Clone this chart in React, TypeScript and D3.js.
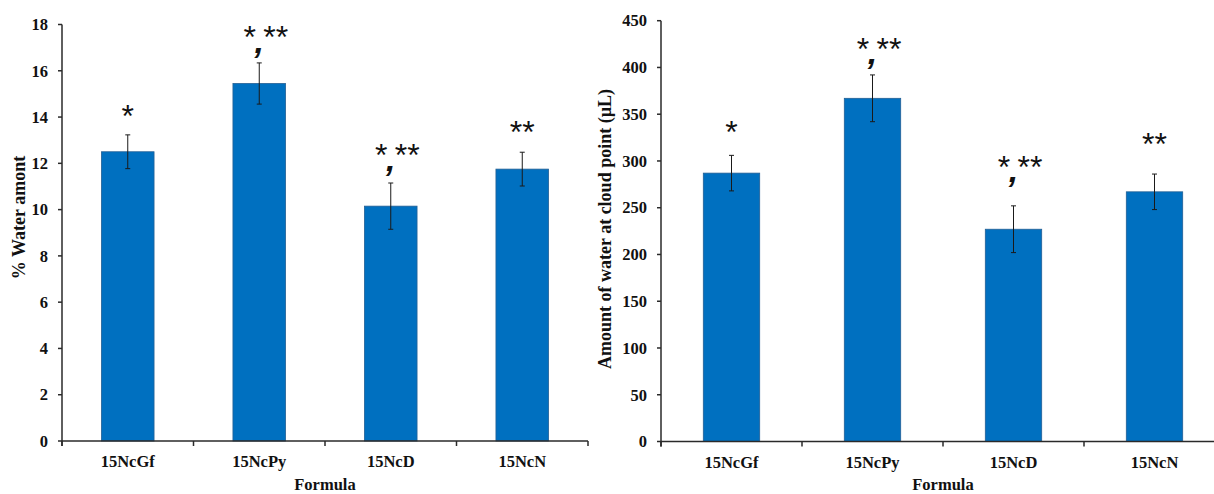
import React from "react";
import * as d3 from "d3";

// ---- Data ----
const categories = ["15NcGf", "15NcPy", "15NcD", "15NcN"];

const waterPct = [12.5, 15.45, 10.15, 11.75];
const waterPctErr = [0.73, 0.89, 1.0, 0.73];
const waterPctMarks = ["*", "*,**", "*,**", "**"];
const waterPctMarkLevel = [14.2, 17.6, 12.5, 13.5];
const waterPctTicks = [0, 2, 4, 6, 8, 10, 12, 14, 16, 18];

const cloudVol = [287, 367, 227, 267];
const cloudVolErr = [19, 25, 25, 19];
const cloudVolMarks = ["*", "*,**", "*,**", "**"];
const cloudVolMarkLevel = [335, 424, 298, 322];
const cloudVolTicks = [0, 50, 100, 150, 200, 250, 300, 350, 400, 450];

const xTitle = "Formula";
const leftTitle = "% Water amont";
const rightTitle = "Amount of water at cloud point (µL)";

const BAR = "#0070C0";
const AXIS = "#2a2a2a";
const SERIF = "'Liberation Serif', 'Times New Roman', serif";
const SANS = "'Liberation Sans', Arial, sans-serif";

type PanelProps = {
  values: number[];
  errors: number[];
  marks: string[];
  markLevel: number[];
  ticks: number[];
  x0: number;
  x1: number;
  yTop: number;
  yBottom: number;
  title: string;
  titleX: number;
  titleY: number;
};

function Panel(p: PanelProps) {
  const dMax = p.ticks[p.ticks.length - 1];
  const y = d3.scaleLinear().domain([0, dMax]).range([p.yBottom, p.yTop]);
  const x = d3.scaleBand<string>().domain(categories).range([p.x0, p.x1]).paddingInner(0).paddingOuter(0);
  const bw = x.bandwidth();
  const barW = bw * 0.4;
  const boundaries = d3.range(categories.length + 1).map((i) => p.x0 + i * bw);
  const markSize = 32;
  const commaDrop = 4.3;

  return (
    <g>
      {/* bars */}
      {categories.map((c, i) => {
        const cx = (x(c) as number) + bw / 2;
        return (
          <rect
            key={"b" + c}
            x={cx - barW / 2}
            y={y(p.values[i])}
            width={barW}
            height={y(0) - y(p.values[i])}
            fill={BAR}
            stroke="#235f94"
            strokeWidth={0.8}
          />
        );
      })}
      {/* error bars */}
      {categories.map((c, i) => {
        const cx = (x(c) as number) + bw / 2;
        const hi = y(p.values[i] + p.errors[i]);
        const lo = y(p.values[i] - p.errors[i]);
        return (
          <g key={"e" + c} stroke="#1a1a1a" strokeWidth={1}>
            <line x1={cx} x2={cx} y1={hi} y2={lo} />
            <line x1={cx - 2.5} x2={cx + 2.5} y1={hi} y2={hi} />
            <line x1={cx - 2.5} x2={cx + 2.5} y1={lo} y2={lo} />
          </g>
        );
      })}
      {/* significance marks */}
      {categories.map((c, i) => {
        const cx = (x(c) as number) + bw / 2;
        const starC = y(p.markLevel[i]);
        const base = starC + markSize * 0.46;
        const m = p.marks[i];
        const parts = m.split(",");
        if (parts.length === 1) {
          return (
            <text key={"m" + c} x={cx} y={base} textAnchor="middle" fontFamily={SANS} fontSize={markSize} fill="#111">
              {m}
            </text>
          );
        }
        return (
          <text key={"m" + c} x={cx - 15.7} y={base} fontFamily={SANS} fontSize={markSize} fill="#111">
            <tspan>{parts[0]}</tspan>
            <tspan dx={-1.45} dy={commaDrop} fontWeight="bold" fontStyle="italic" fontSize={34}>
              ,
            </tspan>
            <tspan dx={-0.7} dy={-commaDrop}>
              {parts[1]}
            </tspan>
          </text>
        );
      })}
      {/* y axis */}
      <line x1={p.x0} x2={p.x0} y1={p.yTop} y2={p.yBottom + 5} stroke={AXIS} strokeWidth={1.5} />
      {p.ticks.map((t) => (
        <g key={"t" + t}>
          <line x1={p.x0 - 4} x2={p.x0} y1={y(t)} y2={y(t)} stroke={AXIS} strokeWidth={1.5} />
          <text
            x={p.x0 - 14}
            y={y(t)}
            dy="0.35em"
            textAnchor="end"
            fontFamily={SERIF}
            fontWeight="bold"
            fontSize={16.5}
            fill="#111"
          >
            {t}
          </text>
        </g>
      ))}
      {/* x axis */}
      <line x1={p.x0} x2={p.x1} y1={p.yBottom} y2={p.yBottom} stroke={AXIS} strokeWidth={1.5} />
      {boundaries.map((bx, i) => (
        <line key={"xt" + i} x1={bx} x2={bx} y1={p.yBottom} y2={p.yBottom + 5} stroke={AXIS} strokeWidth={1.5} />
      ))}
      {categories.map((c) => (
        <text
          key={"xl" + c}
          x={(x(c) as number) + bw / 2}
          y={p.yBottom + 26}
          textAnchor="middle"
          fontFamily={SERIF}
          fontWeight="bold"
          fontSize={16.5}
          fill="#111"
        >
          {c}
        </text>
      ))}
      <text
        x={(p.x0 + p.x1) / 2}
        y={490}
        textAnchor="middle"
        fontFamily={SERIF}
        fontWeight="bold"
        fontSize={16.5}
        fill="#111"
      >
        {xTitle}
      </text>
      <text
        transform={`translate(${p.titleX},${p.titleY}) rotate(-90)`}
        textAnchor="middle"
        fontFamily={SERIF}
        fontWeight="bold"
        fontSize={18}
        fill="#111"
      >
        {p.title}
      </text>
    </g>
  );
}

export default function App() {
  return (
    <div style={{ position: "absolute", left: 0, top: 0 }}>
      <svg width={1214} height={494} style={{ display: "block", background: "#fff" }}>
        <Panel
          values={waterPct}
          errors={waterPctErr}
          marks={waterPctMarks}
          markLevel={waterPctMarkLevel}
          ticks={waterPctTicks}
          x0={62}
          x1={588}
          yTop={24.5}
          yBottom={441}
          title={leftTitle}
          titleX={25}
          titleY={217.5}
        />
        <Panel
          values={cloudVol}
          errors={cloudVolErr}
          marks={cloudVolMarks}
          markLevel={cloudVolMarkLevel}
          ticks={cloudVolTicks}
          x0={661}
          x1={1225}
          yTop={20.7}
          yBottom={441.5}
          title={rightTitle}
          titleX={611}
          titleY={229}
        />
      </svg>
    </div>
  );
}
